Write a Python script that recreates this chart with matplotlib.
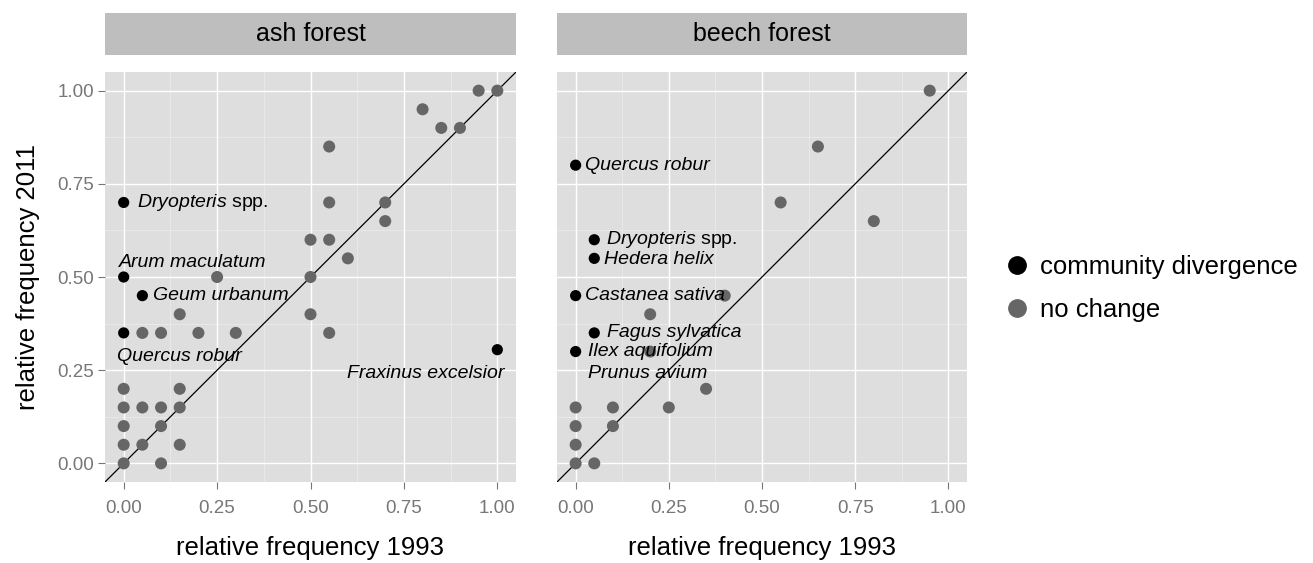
import matplotlib.pyplot as plt
from matplotlib.lines import Line2D

plt.rcParams['font.family'] = ['Liberation Sans', 'DejaVu Sans']
plt.rcParams['mathtext.fontset'] = 'custom'
plt.rcParams['mathtext.it'] = 'Liberation Sans:italic'
plt.rcParams['mathtext.rm'] = 'Liberation Sans'

# ---------------- DATA ----------------
PANELS = ["ash forest", "beech forest"]

# ash forest - no change
ash_x = [0.95, 1.0, 0.8, 0.85, 0.9, 0.55, 0.55, 0.7, 0.7, 0.5, 0.55, 0.6,
         0.5, 0.25, 0.15, 0.5, 0.05, 0.1, 0.2, 0.3, 0.55,
         0.0, 0.15, 0.0, 0.05, 0.1, 0.15, 0.0, 0.1, 0.0, 0.05, 0.15, 0.0, 0.1]
ash_y = [1.0, 1.0, 0.95, 0.9, 0.9, 0.85, 0.7, 0.7, 0.65, 0.6, 0.6, 0.55,
         0.5, 0.5, 0.4, 0.4, 0.35, 0.35, 0.35, 0.35, 0.35,
         0.2, 0.2, 0.15, 0.15, 0.15, 0.15, 0.1, 0.1, 0.05, 0.05, 0.05, 0.0, 0.0]

# ash forest - community divergence
ash_div_x = [0.0, 0.0, 0.05, 0.0, 1.0]
ash_div_y = [0.7, 0.5, 0.45, 0.35, 0.305]
ash_div_names = [r"$\it{Dryopteris}$ spp.", "Arum maculatum", "Geum urbanum",
                 "Quercus robur", "Fraxinus excelsior"]

# beech forest - no change
beech_x = [0.95, 0.65, 0.55, 0.8, 0.4, 0.2, 0.2, 0.35,
           0.0, 0.1, 0.25, 0.0, 0.1, 0.0, 0.0, 0.05]
beech_y = [1.0, 0.85, 0.7, 0.65, 0.45, 0.4, 0.3, 0.2,
           0.15, 0.15, 0.15, 0.1, 0.1, 0.05, 0.0, 0.0]

# beech forest - community divergence (Prunus avium point not visible)
beech_div_x = [0.0, 0.05, 0.05, 0.0, 0.05, 0.0, 0.0]
beech_div_y = [0.8, 0.6, 0.55, 0.45, 0.35, 0.3, 0.25]
beech_div_names = ["Quercus robur", r"$\it{Dryopteris}$ spp.", "Hedera helix",
                   "Castanea sativa", "Fagus sylvatica", "Ilex aquifolium",
                   "Prunus avium"]
beech_div_shown = [True, True, True, True, True, True, False]

TICKS = [0.0, 0.25, 0.5, 0.75, 1.0]
TICK_LABELS = ["0.00", "0.25", "0.50", "0.75", "1.00"]
# --------------------------------------

# label offsets in points (dx, dy, ha)
ash_offsets = [(9.4, 0, "left"), (-3.6, 10.5, "left"), (8, 0, "left"),
               (-5, -17, "left"), (5, -17.5, "right")]
beech_offsets = [(6.5, 0, "left"), (8.6, 0, "left"), (7.2, -1, "left"),
                 (6.5, 0, "left"), (9.4, 0, "left"), (8.6, 0, "left"),
                 (8.6, -2.5, "left")]

PANEL_BG = "#DEDEDE"
STRIP_BG = "#BEBEBE"
GREY_PT = "#666666"
TICK_COL = "#777777"

fig = plt.figure(figsize=(13.13, 5.63), dpi=100)

W, H = 1313, 563
panel_px = [(105, 516), (557, 967)]
top, bottom = 72, 482
strip_top, strip_bot = 13, 55

panels = [
    (ash_x, ash_y, ash_div_x, ash_div_y, ash_div_names, [True] * 5, ash_offsets),
    (beech_x, beech_y, beech_div_x, beech_div_y, beech_div_names,
     beech_div_shown, beech_offsets),
]

for i, (name, data) in enumerate(zip(PANELS, panels)):
    gx, gy, dx_, dy_, names, shown, offs = data
    x0, x1 = panel_px[i]
    ax = fig.add_axes([x0 / W, 1 - bottom / H, (x1 - x0) / W, (bottom - top) / H])
    ax.set_facecolor(PANEL_BG)
    for s in ax.spines.values():
        s.set_visible(False)
    ax.set_xlim(-0.05, 1.05)
    ax.set_ylim(-0.05, 1.05)

    # grid
    for v in [0.125, 0.375, 0.625, 0.875]:
        ax.axvline(v, color="#EBEBEB", lw=0.6, zorder=0)
        ax.axhline(v, color="#EBEBEB", lw=0.6, zorder=0)
    for v in TICKS:
        ax.axvline(v, color="white", lw=1.0, zorder=0)
        ax.axhline(v, color="white", lw=1.0, zorder=0)

    ax.plot([-0.05, 1.05], [-0.05, 1.05], color="black", lw=0.9, zorder=1)

    ax.scatter(gx, gy, s=75, color=GREY_PT, edgecolors="none", zorder=2)
    sx = [x for x, k in zip(dx_, shown) if k]
    sy = [y for y, k in zip(dy_, shown) if k]
    ax.scatter(sx, sy, s=65, color="black", edgecolors="none", zorder=3)

    for x, y, lab, (ox, oy, ha) in zip(dx_, dy_, names, offs):
        style = "normal" if "$" in lab else "italic"
        ax.annotate(lab, (x, y), xytext=(ox, oy), textcoords="offset points",
                    ha=ha, va="center", fontsize=14, style=style, zorder=4)

    ax.set_xticks(TICKS)
    ax.set_xticklabels(TICK_LABELS)
    ax.set_yticks(TICKS)
    ax.tick_params(axis="both", length=5, width=0.8, color=TICK_COL,
                   labelcolor=TICK_COL, labelsize=13.5, pad=3)
    ax.tick_params(axis="x", pad=8)
    if i == 0:
        ax.set_yticklabels(TICK_LABELS)
        ax.set_ylabel("relative frequency 2011", fontsize=18.5, labelpad=12)
    else:
        ax.tick_params(axis="y", length=0, labelleft=False)
    ax.set_xlabel("relative frequency 1993", fontsize=18.5, labelpad=14)

    sax = fig.add_axes([x0 / W, 1 - strip_bot / H, (x1 - x0) / W,
                        (strip_bot - strip_top) / H])
    sax.set_facecolor(STRIP_BG)
    sax.set_xticks([])
    sax.set_yticks([])
    for s in sax.spines.values():
        s.set_visible(False)
    sax.text(0.5, 0.5, name, ha="center", va="center", fontsize=18,
             transform=sax.transAxes)

handles = [
    Line2D([], [], marker="o", ls="", color="black", markersize=12.5),
    Line2D([], [], marker="o", ls="", color=GREY_PT, markersize=12.5),
]
fig.legend(handles, ["community divergence", "no change"], loc="center left",
           bbox_to_anchor=(978 / W, 1 - 288.5 / H), frameon=False,
           fontsize=18.5, handletextpad=0.3, labelspacing=0.75, handlelength=1.2)

fig.savefig("out.png", dpi=100)
